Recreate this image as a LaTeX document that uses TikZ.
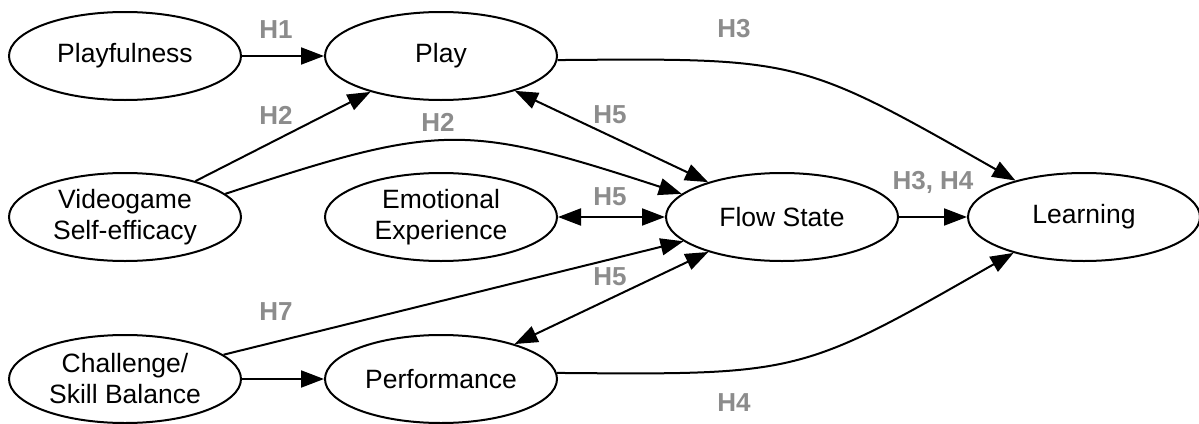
\documentclass[tikz,border=0pt]{standalone}
\usepackage{fontspec}
\setmainfont{Liberation Sans}
\usepackage{xcolor}
\usepackage{tikz}
\usetikzlibrary{arrows.meta,shapes.geometric,positioning}
\definecolor{hypgray}{RGB}{140,140,140}

\begin{document}
\begin{tikzpicture}[x=0.5pt,y=-0.5pt,
  var/.style={ellipse,draw,line width=1pt,minimum width=116pt,minimum height=44pt,
    inner sep=0pt,align=center,font=\fontsize{13.25}{15.5}\selectfont},
  hyp/.style={font=\fontsize{13}{15}\selectfont\bfseries,text=hypgray,text depth=0pt},
  arr/.style={line width=1pt,-{Triangle[length=11.5pt,width=8.5pt]}},
  darr/.style={line width=1pt,{Triangle[length=11.5pt,width=8.5pt]}-{Triangle[length=11.5pt,width=8.5pt]}}]
  \useasboundingbox (0,0) rectangle (1199,423); %与原图同尺寸，单位为像素
  \node[var] (pf) at (125,56) {Playfulness};
  \node[var] (play) at (441,56) {Play};
  \node[var] (vg) at (125,217) {Videogame\\Self-efficacy};
  \node[var] (emo) at (441,217) {Emotional\\Experience};
  \node[var] (flow) at (782,217) {Flow State};
  \node[var] (learn) at (1084,217) {Learning};
  \node[var] (csb) at (125,379) {Challenge/\\Skill Balance};
  \node[var] (perf) at (441,379) {Performance};

  \draw[arr] (pf) -- (play);
  \draw[arr] (vg) -- (play);
  \draw[arr] (vg.13) .. controls (441,123) and (464,123) .. (flow.167);
  \draw[darr] (flow) -- (play);
  \draw[darr] (emo) -- (flow);
  \draw[darr] (flow) -- (perf);
  \draw[arr] (csb) -- (perf);
  \draw[arr] (csb) -- (flow);
  \draw[arr] (flow) -- (learn);
  \draw[arr] (play.-2) .. controls (800,58) .. (learn.152); %单控制点曲线
  \draw[arr] (perf.3) .. controls (800,375) .. (learn.207);

  \node[hyp] (h1) at (276,30) {H1};
  \node[hyp] (h2a) at (276,115) {H2};
  \node[hyp] (h2b) at (438,122) {H2};
  \node[hyp] (h3) at (734,28) {H3};
  \node[hyp] (h5a) at (610,115) {H5};
  \node[hyp] (h5b) at (610,197) {H5};
  \node[hyp] (h5c) at (610,277) {H5};
  \node[hyp] (h34) at (933,180) {H3, H4};
  \node[hyp] (h7) at (276,312) {H7};
  \node[hyp] (h4) at (734,403) {H4};
\end{tikzpicture}
\end{document}
